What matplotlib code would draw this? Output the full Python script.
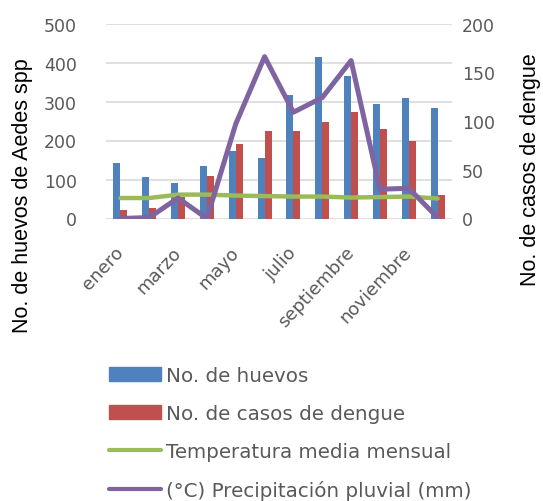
import matplotlib
matplotlib.use("Agg")
import matplotlib.pyplot as plt
from matplotlib.patches import Patch
from matplotlib.lines import Line2D
import numpy as np

# datos mensuales
meses = ["enero", "febrero", "marzo", "abril", "mayo", "junio", "julio",
         "agosto", "septiembre", "octubre", "noviembre", "diciembre"]
huevos = [142, 106, 90, 135, 174, 155, 316, 415, 365, 293, 308, 284]
casos_dengue = [9, 11, 22, 44, 76, 90, 90, 99, 109, 92, 79, 24]
temperatura = [21, 21, 24.5, 24.5, 23.5, 23, 22.5, 22.5, 21.5, 22, 22.5, 20.5]
precipitacion = [0, 1, 21, 0, 97, 166, 109, 124, 162, 30, 31, 1]

c_azul = "#4F81BD"
c_rojo = "#C0504D"
c_verde = "#9BBB59"
c_morado = "#8064A2"
c_texto = "#595959"

fig = plt.figure(figsize=(5.43, 5.02), dpi=100)
ax = fig.add_axes([106/543, 1-219.5/502, 346/543, 195/502])
ax2 = ax.twinx()

x = np.arange(len(meses))
w = 0.24
ax.bar(x - w/2, huevos, width=w, color=c_azul, zorder=2)
ax2.bar(x + w/2, casos_dengue, width=w, color=c_rojo, zorder=2)
ax2.plot(x, temperatura, color=c_verde, lw=3.2, solid_capstyle="round", zorder=3)
ax2.plot(x, precipitacion, color=c_morado, lw=3.6, solid_capstyle="round",
         solid_joinstyle="round", zorder=4)

ax.set_xlim(-0.5, len(meses) - 0.5)
ax.set_ylim(0, 500)
ax2.set_ylim(0, 200)
ax.set_yticks(range(0, 501, 100))
ax2.set_yticks(range(0, 201, 50))
ax.yaxis.grid(True, color="#D9D9D9", lw=1.2, zorder=0)
ax.set_axisbelow(True)
for a in (ax, ax2):
    for s in a.spines.values():
        s.set_visible(False)
    a.tick_params(length=0, labelsize=12.5, labelcolor=c_texto)
ax.tick_params(axis="y", pad=21)
ax2.tick_params(axis="y", pad=7)

ax.set_xticks(x[::2])
ax.set_xticklabels(meses[::2], rotation=47, ha="right", va="center",
                   rotation_mode="anchor", fontsize=13, color=c_texto)
ax.tick_params(axis="x", pad=22)

ax.set_ylabel("No. de huevos de Aedes spp", fontsize=15.5,
              family="Liberation Sans")
ax.yaxis.set_label_coords(-0.21, 0.12)
ax2.set_ylabel("No. de casos de dengue", fontsize=15.5,
               family="Liberation Sans", rotation=90)
ax2.yaxis.set_label_coords(1.196, 0.255)

handles = [Patch(color=c_azul), Patch(color=c_rojo),
           Line2D([], [], color=c_verde, lw=3, solid_capstyle="round"),
           Line2D([], [], color=c_morado, lw=3, solid_capstyle="round")]
labels = ["No. de huevos", "No. de casos de dengue",
          "Temperatura media mensual", "(°C) Precipitación pluvial (mm)"]
leg = fig.legend(handles, labels, loc="upper left",
                 bbox_to_anchor=(99/543, 1-357/502), frameon=False,
                 fontsize=14.3, handlelength=2.62, handletextpad=0.24,
                 labelspacing=0.96, borderpad=0)
for t in leg.get_texts():
    t.set_color(c_texto)

fig.savefig("out.png", dpi=100)
